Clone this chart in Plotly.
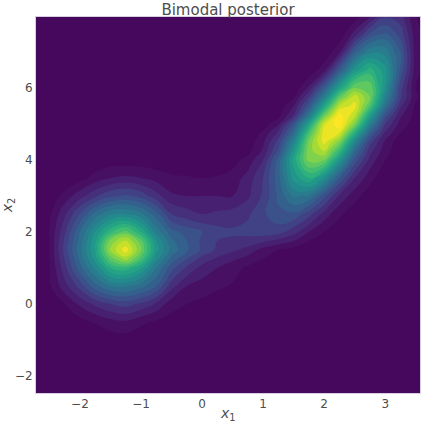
import plotly.graph_objects as go

# density, one row per y, peak of the right mode = 1
x_grid = [-2.75, -2.5, -2.25, -2, -1.75, -1.5, -1.25, -1, -0.75, -0.5, -0.25, 0, 0.25, 0.5,
          0.75, 1, 1.25, 1.5, 1.75, 2, 2.25, 2.5, 2.75, 3, 3.25, 3.5, 3.75]
y_grid = [-2.5, -2, -1.5, -1, -0.5, 0, 0.5, 1, 1.25, 1.5, 1.75, 2, 2.5, 3, 3.5, 4, 4.25, 4.5,
          4.75, 5, 5.25, 5.5, 5.75, 6, 6.5, 7, 7.5, 8]
density = [
    [0, 0, 0, 0, 0, 0, 0, 0, 0, 0, 0, 0, 0, 0, 0, 0, 0, 0, 0, 0, 0, 0, 0, 0, 0, 0, 0],
    [0, 0, 0, 0, 0, 0, 0, 0, 0, 0, 0, 0, 0, 0, 0, 0, 0, 0, 0, 0, 0, 0, 0, 0, 0, 0, 0],
    [0, 0, 0, 0, 0, 0, 0, 0, 0, 0, 0, 0, 0, 0, 0, 0, 0, 0, 0, 0, 0, 0, 0, 0, 0, 0, 0],
    [0, 0, 0, 0, .01, .02, .025, .02, .01, 0, 0, 0, 0, 0, 0, 0, 0, 0, 0, 0, 0, 0, 0, 0, 0, 0, 0],
    [0, 0, .005, .03, .055, .08, .09, .06, .04, .03, .015, .005, 0, 0, 0, 0, 0, 0, 0, 0, 0, 0, 0, 0, 0, 0, 0],
    [0, .01, .05, .11, .16, .2, .22, .19, .14, .07, .05, .035, .02, .01, 0, 0, 0, 0, 0, 0, 0, 0, 0, 0, 0, 0, 0],
    [.01, .04, .13, .22, .33, .4, .41, .37, .3, .17, .1, .08, .06, .045, .02, .01, 0, 0, 0, 0, 0, 0, 0, 0, 0, 0, 0],
    [.01, .045, .18, .33, .46, .6, .63, .55, .4, .27, .19, .13, .1, .07, .04, .02, .01, 0, 0, 0, 0, 0, 0, 0, 0, 0, 0],
    [.01, .05, .2, .36, .52, .72, .82, .68, .47, .33, .25, .18, .14, .11, .08, .05, .025, .01, 0, 0, 0, 0, 0, 0, 0, 0, 0],
    [.01, .05, .22, .38, .55, .81, .93, .75, .52, .38, .31, .24, .19, .16, .13, .08, .05, .03, .01, 0, 0, 0, 0, 0, 0, 0, 0],
    [.01, .05, .21, .37, .54, .77, .86, .72, .5, .36, .3, .24, .2, .19, .18, .16, .13, .1, .05, .02, .01, 0, 0, 0, 0, 0, 0],
    [.01, .05, .19, .35, .5, .64, .72, .6, .43, .32, .28, .25, .22, .21, .22, .23, .22, .17, .1, .05, .02, 0, 0, 0, 0, 0, 0],
    [.01, .04, .14, .25, .37, .44, .45, .41, .32, .2, .17, .15, .16, .17, .19, .24, .29, .29, .22, .13, .06, .02, 0, 0, 0, 0, 0],
    [0, .01, .07, .13, .19, .24, .26, .23, .17, .11, .1, .1, .1, .1, .14, .21, .31, .41, .39, .27, .14, .07, .02, 0, 0, 0, 0],
    [0, 0, 0, .03, .07, .1, .11, .1, .08, .06, .055, .05, .055, .07, .12, .2, .33, .52, .6, .49, .3, .15, .07, .01, 0, 0, 0],
    [0, 0, 0, 0, .01, .02, .02, .02, .015, .01, .01, .01, .01, .03, .07, .15, .32, .57, .77, .75, .52, .28, .13, .05, .005, 0, 0],
    [0, 0, 0, 0, 0, 0, 0, 0, 0, 0, 0, 0, 0, .01, .03, .11, .26, .52, .78, .85, .65, .36, .17, .07, .015, 0, 0],
    [0, 0, 0, 0, 0, 0, 0, 0, 0, 0, 0, 0, 0, 0, .015, .09, .22, .45, .76, .92, .77, .46, .22, .09, .02, 0, 0],
    [0, 0, 0, 0, 0, 0, 0, 0, 0, 0, 0, 0, 0, 0, .01, .06, .16, .36, .68, .93, .9, .61, .32, .14, .05, .01, 0],
    [0, 0, 0, 0, 0, 0, 0, 0, 0, 0, 0, 0, 0, 0, 0, .02, .09, .28, .56, .89, .99, .77, .44, .2, .08, .02, 0],
    [0, 0, 0, 0, 0, 0, 0, 0, 0, 0, 0, 0, 0, 0, 0, 0, .03, .15, .4, .73, .97, .87, .56, .28, .11, .03, 0],
    [0, 0, 0, 0, 0, 0, 0, 0, 0, 0, 0, 0, 0, 0, 0, 0, .01, .1, .29, .57, .86, .92, .69, .38, .16, .04, 0],
    [0, 0, 0, 0, 0, 0, 0, 0, 0, 0, 0, 0, 0, 0, 0, 0, 0, .04, .2, .43, .72, .88, .75, .45, .21, .06, 0],
    [0, 0, 0, 0, 0, 0, 0, 0, 0, 0, 0, 0, 0, 0, 0, 0, 0, .01, .11, .31, .56, .75, .74, .5, .22, .05, 0],
    [0, 0, 0, 0, 0, 0, 0, 0, 0, 0, 0, 0, 0, 0, 0, 0, 0, 0, .01, .08, .3, .52, .62, .52, .29, .07, 0],
    [0, 0, 0, 0, 0, 0, 0, 0, 0, 0, 0, 0, 0, 0, 0, 0, 0, 0, 0, .01, .09, .32, .44, .43, .3, .07, .01],
    [0, 0, 0, 0, 0, 0, 0, 0, 0, 0, 0, 0, 0, 0, 0, 0, 0, 0, 0, 0, .01, .12, .26, .31, .23, .07, .01],
    [0, 0, 0, 0, 0, 0, 0, 0, 0, 0, 0, 0, 0, 0, 0, 0, 0, 0, 0, 0, 0, .02, .09, .19, .17, .05, .01],
]
x_ticks = [-2, -1, 0, 1, 2, 3]
y_ticks = [-2, 0, 2, 4, 6]

# viridis, first stop lifted to the flat background of the reference
colors = ['#46085c', '#482878', '#3e4989', '#31688e', '#26828e',
          '#1f9e89', '#35b779', '#6ece58', '#b5de2b', '#fde725']
colorscale = [[i / (len(colors) - 1), c] for i, c in enumerate(colors)]

fig = go.Figure()

fig.add_trace(go.Contour(
    x=x_grid,
    y=y_grid,
    z=density,
    colorscale=colorscale,
    zmin=0,
    zmax=1,
    autocontour=False,
    contours=dict(start=0.05, end=1.0, size=0.05, coloring='fill', showlines=False),
    line=dict(width=0, smoothing=1.3),
    showscale=False,
))

text_color = '#4d4d4d'
fig.update_layout(
    width=423,
    height=423,
    title=dict(text='Bimodal posterior', x=0.539, xanchor='center', y=0.977, yanchor='middle',
               font=dict(size=15, color=text_color)),
    font=dict(family='DejaVu Sans', color=text_color),
    paper_bgcolor='white',
    plot_bgcolor='#46085c',
    margin=dict(l=36, r=3, t=17, b=30, autoexpand=False),
    showlegend=False,
)
fig.update_xaxes(
    range=[-2.72, 3.57],
    tickvals=x_ticks,
    ticktext=['\u2212' + str(-t) if t < 0 else str(t) for t in x_ticks],
    tickfont=dict(size=12),
    ticks='',
    showgrid=False,
    zeroline=False,
    showline=True,
    linecolor='#d8d0e0',
    mirror=True,
    automargin=False,
)
fig.update_yaxes(
    range=[-2.47, 7.97],
    tickvals=y_ticks,
    ticktext=['\u2212' + str(-t) if t < 0 else str(t) for t in y_ticks],
    tickfont=dict(size=12),
    ticks='',
    showgrid=False,
    zeroline=False,
    showline=True,
    linecolor='#d8d0e0',
    mirror=True,
    automargin=False,
)
fig.add_annotation(text='<i>x</i><sub>1</sub>', xref='paper', yref='paper', x=0.5, y=-0.056,
                   showarrow=False, xanchor='center', yanchor='middle',
                   font=dict(size=14, color=text_color))
fig.add_annotation(text='<i>x</i><sub>2</sub>', xref='paper', yref='paper', x=-0.072, y=0.5,
                   showarrow=False, xanchor='center', yanchor='middle', textangle=-90,
                   font=dict(size=14, color=text_color))

# the page's default body margin would push the figure 8px in and add a scrollbar
fig.write_html("out.html", config=dict(displayModeBar=False),
               post_script="document.body.style.margin='0';")
